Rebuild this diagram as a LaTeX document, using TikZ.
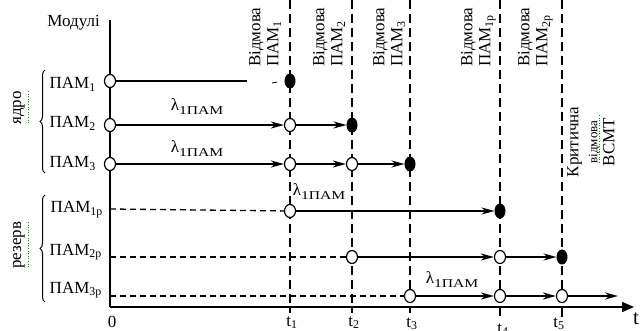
\documentclass[tikz,border=0pt]{standalone}
\usepackage{fontspec}
\usepackage{graphicx}
\setmainfont{Liberation Serif}
\usetikzlibrary{arrows.meta,shapes.geometric,decorations.pathreplacing}
\newcommand\lamlbl{{\fontsize{17}{17}\selectfont λ}\raisebox{-4pt}{\scalebox{1.3}[1]{\fontsize{12}{12}\selectfont 1ПАМ}}}
\begin{document}
\begin{tikzpicture}[x=1pt,y=-1pt,
  opn/.style={ellipse,draw,fill=white,line width=1.2pt,minimum width=11pt,minimum height=13pt,inner sep=0pt},
  fld/.style={ellipse,draw,fill=black,line width=1pt,minimum width=10pt,minimum height=14pt,inner sep=0pt},
  ln/.style={line width=1.6pt},
  arr/.style={ln,-{Stealth[length=13pt,width=7pt,inset=4pt]}},
  rline/.style={line width=1.3pt,dash pattern=on 6pt off 4pt},
  vline/.style={line width=1.4pt,dash pattern=on 9pt off 5pt},
  txt/.style={font=\fontsize{17}{18}\selectfont,inner sep=0pt},
  rot/.style={txt,rotate=90,align=left,anchor=north west},
  brc/.style={decorate,decoration={brace,amplitude=5pt},line width=1pt},
  spell/.style={green!60!black,line width=0.6pt,dotted},
]
\useasboundingbox (0,0) rectangle (640,331);

% axes
\coordinate (top) at (110,20);
\coordinate (O) at (110,307);
\coordinate (xend) at (634,307);
\draw[ln] (top) -- (O);
\draw[line width=1.6pt,-{Triangle[length=12pt,width=10pt]}] (O) -- (xend);
\node[txt,font=\fontsize{21}{21}\selectfont,anchor=base] (tlab) at (636,324) {t};
\node[txt,anchor=base] (zero) at (112,327) {0};

% vertical dashed lines
\foreach \n/\x/\b in {1/290/313,2/352/313,3/410/313,4/500/316,5/562/318}{
  \coordinate (v\n t) at (\x,0);
  \coordinate (v\n b) at (\x,\b);
  \draw[vline] (v\n t) -- (v\n b);
}
\node[txt,anchor=base] (t1) at (292,326) {t\textsubscript{1}};
\node[txt,anchor=base] (t2) at (354,326) {t\textsubscript{2}};
\node[txt,anchor=base] (t3) at (412,327) {t\textsubscript{3}};
\node[txt,anchor=base] (t4) at (503,333) {t\textsubscript{4}};
\node[txt,anchor=base] (t5) at (559,327) {t\textsubscript{5}};

% left labels
\node[txt,anchor=base east] (mod) at (100,27) {Модулі};
\node[txt,anchor=base east] (l1) at (96,89) {ПАМ\textsubscript{1}};
\node[txt,anchor=base east] (l2) at (96,128) {ПАМ\textsubscript{2}};
\node[txt,anchor=base east] (l3) at (96,168) {ПАМ\textsubscript{3}};
\node[txt,anchor=base east] (l4) at (103,213) {ПАМ\textsubscript{1р}};
\node[txt,anchor=base east] (l5) at (102,255) {ПАМ\textsubscript{2р}};
\node[txt,anchor=base east] (l6) at (102,293) {ПАМ\textsubscript{3р}};

% braces
\coordinate (br1a) at (45,173); \coordinate (br1b) at (45,70);
\coordinate (br2a) at (45,302); \coordinate (br2b) at (45,195);
\draw[brc] (br1a) -- (br1b);
\draw[brc] (br2a) -- (br2b);
\node[txt,rotate=90] (core) at (19,108) {ядро};
\node[txt,rotate=90] (res) at (19,245) {резерв};
\coordinate (s1a) at (28,91); \coordinate (s1b) at (28,124);
\coordinate (s2a) at (28,222); \coordinate (s2b) at (28,268);
\draw[spell] (s1a) -- (s1b);
\draw[spell] (s2a) -- (s2b);

% rotated failure labels
\node[rot] (f1lab) at (249,67) {Відмова\\ПАМ\textsubscript{1}};
\node[rot] (f2lab) at (313,67) {Відмова\\ПАМ\textsubscript{2}};
\node[rot] (f3lab) at (373,67) {Відмова\\ПАМ\textsubscript{3}};
\node[rot] (f4lab) at (461,67) {Відмова\\ПАМ\textsubscript{1р}};
\node[rot] (f5lab) at (518,67) {Відмова\\ПАМ\textsubscript{2р}};
\node[txt,rotate=90,align=center,anchor=north] (crit) at (567,142)
  {Критична\\[1pt]{\fontsize{13}{13}\selectfont відмова}\\[-1pt]ВСМТ};
\coordinate (s3a) at (599,115); \coordinate (s3b) at (599,162);
\draw[spell] (s3a) -- (s3b);

% row PAM1
\node[opn] (a0) at (110,81) {};
\coordinate (a0e) at (247,81);
\draw[ln] (a0) -- (a0e);
\coordinate (k1) at (272,83); \coordinate (k2) at (277,82);
\draw[line width=0.8pt] (k1) -- (k2);
\node[fld] (a1) at (290,81) {};

% row PAM2
\node[opn] (b0) at (110,125) {};
\node[opn] (b1) at (290,125) {};
\node[fld] (b2) at (352,125) {};
\draw[arr] (b0) -- (b1);
\draw[arr] (b1) -- (b2);
\node[txt] (lam1) at (197,107) {\lamlbl};

% row PAM3
\node[opn] (c0) at (110,164) {};
\node[opn] (c1) at (290,164) {};
\node[opn] (c2) at (352,164) {};
\node[fld] (c3) at (410,164) {};
\draw[arr] (c0) -- (c1);
\draw[arr] (c1) -- (c2);
\draw[arr] (c2) -- (c3);
\node[txt] (lam2) at (197,149) {\lamlbl};

% row PAM1p
\coordinate (d0) at (110,209);
\node[opn] (d1) at (290,211) {};
\node[fld] (d2) at (500,211) {};
\draw[rline] (d0) -- (d1);
\draw[arr] (d1) -- (d2);
\node[txt] (lam3) at (319,192) {\lamlbl};

% row PAM2p
\coordinate (e0) at (110,257);
\node[opn] (e1) at (352,257) {};
\node[opn] (e2) at (500,257) {};
\node[fld] (e3) at (562,257) {};
\draw[rline] (e0) -- (e1);
\draw[arr] (e1) -- (e2);
\draw[arr] (e2) -- (e3);

% row PAM3p
\coordinate (g0) at (110,296);
\node[opn] (g1) at (410,296) {};
\node[opn] (g2) at (500,296) {};
\node[opn] (g3) at (562,296) {};
\coordinate (g4) at (618,296);
\draw[rline] (g0) -- (g1);
\draw[arr] (g1) -- (g2);
\draw[arr] (g2) -- (g3);
\draw[arr] (g3) -- (g4);
\node[txt] (lam4) at (452,280) {\lamlbl};
\end{tikzpicture}
\end{document}
